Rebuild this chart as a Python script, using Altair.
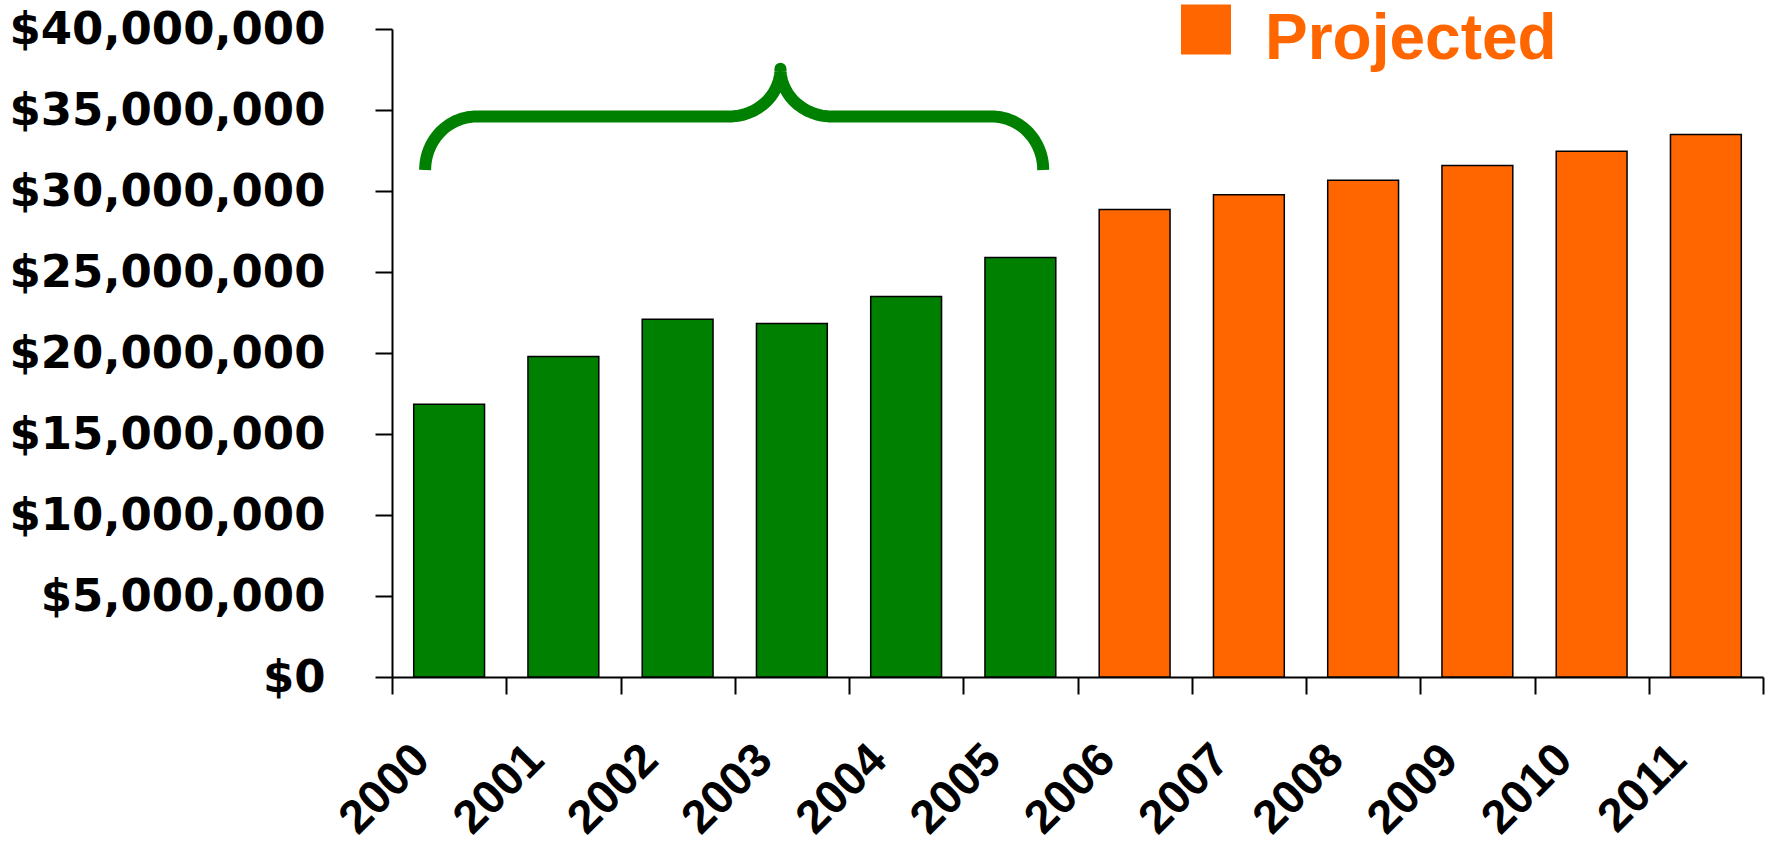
import math

import altair as alt
import pandas as pd

# Annual totals (USD): 2000-2005 actual, 2006-2011 projected
years = ["2000", "2001", "2002", "2003", "2004", "2005",
         "2006", "2007", "2008", "2009", "2010", "2011"]
totals = [16_830_000, 19_780_000, 22_090_000, 21_820_000, 23_490_000, 25_900_000,
          28_860_000, 29_770_000, 30_660_000, 31_580_000, 32_450_000, 33_480_000]
periods = ["Actual", "Actual", "Actual", "Actual", "Actual", "Actual",
           "Projected", "Projected", "Projected", "Projected", "Projected", "Projected"]
y_ticks = [0, 5_000_000, 10_000_000, 15_000_000, 20_000_000,
           25_000_000, 30_000_000, 35_000_000, 40_000_000]
slot_edges = [0, 1, 2, 3, 4, 5, 6, 7, 8, 9, 10, 11, 12]

GREEN = "#008000"
ORANGE = "#FF6600"

# Curly brace spanning the actual years (x in year slots, y in dollars)
brace_left, brace_tip_x, brace_right = 0.29, 3.40, 5.70
brace_foot, brace_bar, brace_tip = 31_300_000, 34_600_000, 37_550_000
brace_corner = 0.45


def arc(cx, cy, rx, ry, a0, a1, n=24):
    pts = []
    for k in range(n + 1):
        t = math.radians(a0 + (a1 - a0) * k / n)
        pts.append((cx + rx * math.cos(t), cy + ry * math.sin(t)))
    return pts


brace_pts = []
brace_pts += arc(brace_left + brace_corner, brace_foot, brace_corner,
                 brace_bar - brace_foot, 180, 90)
brace_pts += arc(brace_tip_x - brace_corner, brace_tip, brace_corner,
                 brace_tip - brace_bar, -90, 0)
brace_pts += arc(brace_tip_x + brace_corner, brace_tip, brace_corner,
                 brace_tip - brace_bar, 180, 270)
brace_pts += arc(brace_right - brace_corner, brace_foot, brace_corner,
                 brace_bar - brace_foot, 90, 0)

bars = pd.DataFrame({"year": years, "total": totals, "period": periods})
brace = pd.DataFrame({
    "bx": [p[0] for p in brace_pts],
    "by": [p[1] for p in brace_pts],
    "step": list(range(len(brace_pts))),
})

y_scale = alt.Scale(domain=[0, 40_000_000], nice=False, zero=True)

# legend swatch: a square raised above the label's centre line
RAISED_SQUARE = "M-1,-1.42H1V0.58H-1Z"

bar_layer = alt.Chart(bars).mark_bar(stroke="black", strokeWidth=1.5).encode(
    x=alt.X(
        "year:N",
        sort=years,
        title="",
        scale=alt.Scale(paddingInner=0.38, paddingOuter=0.19),
        axis=alt.Axis(
            ticks=False,
            labelAngle=-45,
            labelAlign="right",
            labelBaseline="middle",
            labelPadding=75,
            labelOffset=-27,
            labelFont="Liberation Sans",
            labelFontWeight="bold",
            labelFontSize=47,
            labelColor="black",
            labelOverlap=False,
            labelLimit=400,
            domainColor="black",
            domainWidth=2,
            grid=False,
        ),
    ),
    y=alt.Y(
        "total:Q",
        title="",
        scale=y_scale,
        axis=alt.Axis(
            values=y_ticks,
            format="$,.0f",
            labelFont="DejaVu Sans",
            labelFontWeight="bold",
            labelFontSize=45,
            labelColor="black",
            labelPadding=50,
            labelOverlap=False,
            labelFlush=False,
            labelLimit=500,
            tickSize=17,
            tickWidth=2,
            tickColor="black",
            domainColor="black",
            domainWidth=2,
            grid=False,
        ),
    ),
    color=alt.Color(
        "period:N",
        title="",
        scale=alt.Scale(domain=["Actual", "Projected"], range=[GREEN, ORANGE]),
        legend=alt.Legend(
            values=["Projected"],
            orient="none",
            legendX=782,
            legendY=-21,
            padding=0,
            symbolType=RAISED_SQUARE,
            symbolSize=2500,
            symbolStrokeWidth=0,
            symbolOpacity=1,
            labelFont="Liberation Sans",
            labelFontWeight="bold",
            labelFontSize=64,
            labelColor=ORANGE,
            labelOffset=27,
            labelLimit=600,
        ),
    ),
)

# brace drawn on a slot-based x scale whose ticks mark the year boundaries
brace_layer = alt.Chart(brace).mark_line(
    color=GREEN, strokeWidth=12, strokeCap="butt", strokeJoin="round"
).encode(
    x=alt.X(
        "bx:Q",
        title="",
        scale=alt.Scale(domain=[0, 12], nice=False, zero=False),
        axis=alt.Axis(
            orient="bottom",
            values=slot_edges,
            labels=False,
            domain=False,
            grid=False,
            tickSize=17,
            tickWidth=2,
            tickColor="black",
        ),
    ),
    y=alt.Y("by:Q", scale=y_scale),
    order="step:Q",
)

chart = (
    alt.layer(bar_layer, brace_layer)
    .resolve_scale(x="independent")
    .properties(
        width=1371,
        height=648,
        padding={"left": 392, "top": 29, "right": 8, "bottom": 171},
        autosize=alt.AutoSizeParams(type="none"),
        background="white",
    )
    .configure_view(stroke="transparent")
)

chart.save("out.html", embed_options={"renderer": "svg", "actions": False})
